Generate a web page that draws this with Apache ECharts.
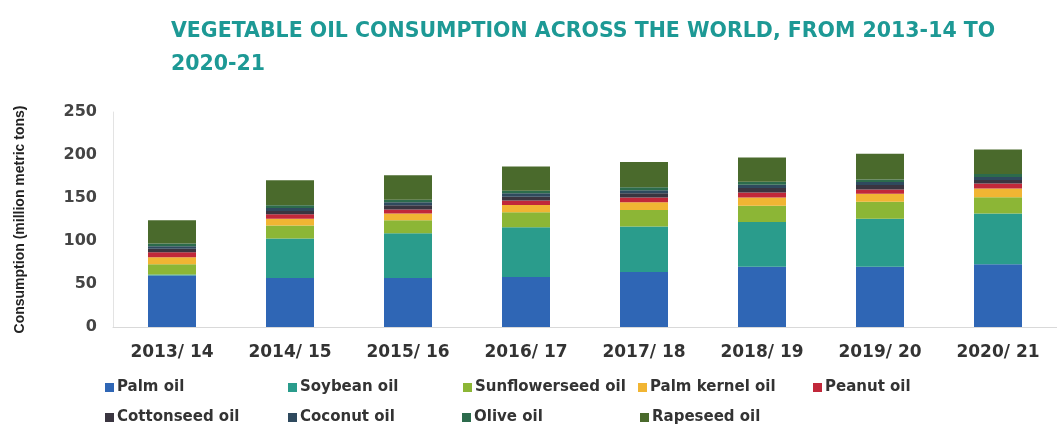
<!DOCTYPE html>
<html>
<head>
<meta charset="utf-8">
<script src="https://cdn.jsdelivr.net/npm/echarts@6/dist/echarts.min.js"></script>
<style>html,body{margin:0;padding:0;background:#fff;}#c{width:1057px;height:428px;}</style>
</head>
<body>
<div id="c"></div>
<script>
const categories = ['2013/ 14','2014/ 15','2015/ 16','2016/ 17','2017/ 18','2018/ 19','2019/ 20','2020/ 21'];
const yTicks = [0, 50, 100, 150, 200, 250];
const seriesNames = ['Palm oil','Soybean oil','Sunflowerseed oil','Palm kernel oil','Peanut oil','Cottonseed oil','Coconut oil','Olive oil','Rapeseed oil'];
const palmOil        = [60, 57, 57, 58, 64, 70, 70, 73];
const soybeanOil     = [1, 46, 52, 58, 53, 52, 56, 59];
const sunflowerOil   = [12, 15, 15, 17.5, 19, 19, 19.5, 19];
const palmKernelOil  = [8, 8, 8, 8.5, 9, 9.5, 9.5, 10];
const peanutOil      = [6, 5, 4.5, 5, 5.5, 6, 5, 6];
const cottonseedOil  = [4, 4, 5, 4.5, 5, 5, 5, 4];
const coconutOil     = [3, 3.5, 3.5, 4, 3.5, 4, 3.5, 3.5];
const oliveOil       = [3, 3, 3, 3, 3.5, 3.5, 3, 3.5];
const rapeseedOil    = [27, 29, 28.5, 28, 29.5, 28, 30, 28.5];
const seriesData = [palmOil, soybeanOil, sunflowerOil, palmKernelOil, peanutOil, cottonseedOil, coconutOil, oliveOil, rapeseedOil];
const colors = ['#2f66b5','#2a9c8c','#8cb636','#f1b533','#c1283a','#3a3540','#2f4a5e','#2c6b4c','#4a6a2c'];

const legendPos = [
  [100, 375],[283, 375],[458, 375],[633, 375],[808, 375],
  [100, 405],[283, 405],[457, 405],[635, 405]
];

const chart = echarts.init(document.getElementById('c'), null, {renderer: 'canvas'});
const option = {
  animation: false,
  color: colors,
  title: {
    text: 'VEGETABLE OIL CONSUMPTION ACROSS THE WORLD, FROM 2013-14 TO\n2020-21',
    left: 166, top: 10,
    textStyle: {color: '#1d9995', fontSize: 20.5, fontWeight: 'bold', fontFamily: 'DejaVu Sans', lineHeight: 33}
  },
  legend: seriesNames.map((n, i) => ({
    data: [n], left: legendPos[i][0], top: legendPos[i][1],
    icon: 'rect', itemWidth: 9, itemHeight: 9, itemGap: 4,
    textStyle: {color: '#333', fontSize: 15, fontWeight: 'bold', fontFamily: 'DejaVu Sans', padding: [0, 0, 0, -2]}
  })),
  grid: {left: 113, right: -9, top: 112, bottom: 101},
  xAxis: {
    type: 'category', data: categories,
    axisLine: {show: true, lineStyle: {color: '#d9d9d9'}},
    axisTick: {show: false},
    axisLabel: {color: '#333', fontSize: 17, fontWeight: 'bold', fontFamily: 'DejaVu Sans', margin: 17}
  },
  yAxis: {
    type: 'value', min: 0, max: 250, interval: 50,
    name: 'Consumption (million metric tons)', nameLocation: 'middle', nameGap: 86,
    nameTextStyle: {color: '#222', fontSize: 14, fontWeight: 'bold', fontFamily: 'Liberation Sans'},
    axisLine: {show: true, lineStyle: {color: '#e3e3e3'}},
    axisTick: {show: false},
    splitLine: {show: false},
    axisLabel: {color: '#444', fontSize: 16, fontWeight: 'bold', fontFamily: 'DejaVu Sans', margin: 16,
      formatter: v => yTicks.includes(v) ? String(v) : ''}
  },
  series: seriesNames.map((n, i) => ({
    name: n, type: 'bar', stack: 'total', barWidth: 48,
    data: seriesData[i], itemStyle: {color: colors[i]}
  }))
};
chart.setOption(option);
</script>
</body>
</html>
